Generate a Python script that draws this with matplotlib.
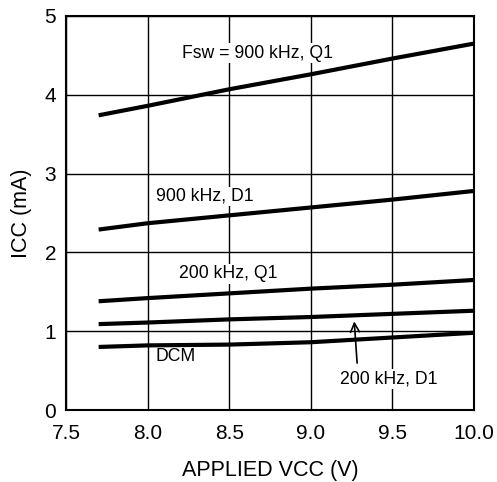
import matplotlib
matplotlib.use("Agg")
import matplotlib.pyplot as plt

vcc = [7.7, 8.0, 8.5, 9.0, 9.5, 10.0]
fsw900_q1 = [3.74, 3.86, 4.07, 4.26, 4.46, 4.65]
fsw900_d1 = [2.29, 2.37, 2.47, 2.57, 2.67, 2.78]
fsw200_q1 = [1.38, 1.42, 1.48, 1.54, 1.59, 1.65]
fsw200_d1 = [1.09, 1.11, 1.15, 1.18, 1.22, 1.26]
dcm = [0.80, 0.82, 0.83, 0.86, 0.92, 0.98]

xticks = [7.5, 8.0, 8.5, 9.0, 9.5, 10.0]
xtick_labels = ["7.5", "8.0", "8.5", "9.0", "9.5", "10.0"]
yticks = [0, 1, 2, 3, 4, 5]

plt.rcParams['font.family'] = ['Liberation Sans', 'DejaVu Sans']

fig = plt.figure(figsize=(4.97, 4.82), dpi=100)
ax = fig.add_axes([66/497, 1 - 410/482, (474-66)/497, (410-16)/482])

for s in [fsw900_q1, fsw900_d1, fsw200_q1, fsw200_d1, dcm]:
    ax.plot(vcc, s, color='black', lw=3, solid_capstyle='butt', zorder=3)

ax.set_xlim(7.5, 10.0)
ax.set_ylim(0, 5)
ax.set_xticks(xticks)
ax.set_xticklabels(xtick_labels)
ax.set_yticks(yticks)
ax.grid(True, color='black', lw=1)
ax.set_axisbelow(True)
ax.tick_params(length=0, labelsize=15)
ax.tick_params(axis='x', pad=10)
ax.tick_params(axis='y', pad=7)
for sp in ax.spines.values():
    sp.set_linewidth(1.5)

ax.set_xlabel("APPLIED VCC (V)", fontsize=15.5, labelpad=12)
ax.set_ylabel("ICC (mA)", fontsize=15.5, labelpad=9)

bbox = dict(facecolor='white', edgecolor='none', pad=1)
fs = 12.7
ax.text(8.21, 4.53, "Fsw = 900 kHz, Q1", fontsize=fs, va='center', ha='left', bbox=bbox, zorder=2)
ax.text(8.05, 2.71, "900 kHz, D1", fontsize=fs, va='center', ha='left', bbox=bbox, zorder=2)
ax.text(8.19, 1.73, "200 kHz, Q1", fontsize=fs, va='center', ha='left', bbox=bbox, zorder=2)
ax.text(8.05, 0.68, "DCM", fontsize=fs, va='center', ha='left', bbox=bbox, zorder=2)
ax.text(9.18, 0.39, "200 kHz, D1", fontsize=fs, va='center', ha='left', bbox=bbox, zorder=2)
ax.annotate("", xy=(9.265, 1.16), xytext=(9.285, 0.56),
            arrowprops=dict(arrowstyle='->', color='black', lw=1.2, mutation_scale=16), zorder=4)

fig.savefig("out.png", dpi=100)
